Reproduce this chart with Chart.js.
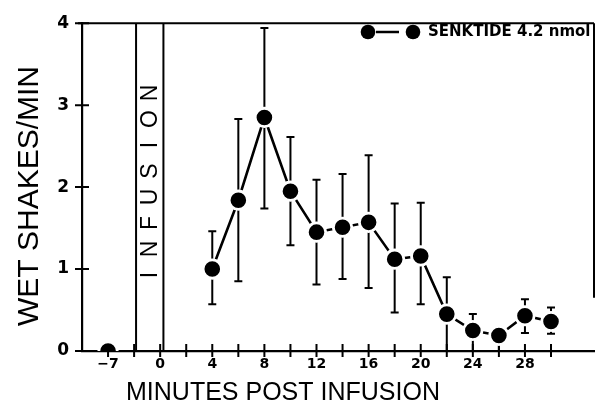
<!DOCTYPE html>
<html>
<head>
<meta charset="utf-8">
<script src="https://cdn.jsdelivr.net/npm/chart.js@4"></script>
<style>
  html, body { margin: 0; padding: 0; background: #fff; }
  #wrap { width: 606px; height: 417px; }
</style>
</head>
<body>
<div id="wrap"><canvas id="chart"></canvas></div>
<script>
// minutes post infusion (x on the plot), -7 baseline sits on a broken axis at position -4
const minutes = [4, 6, 8, 10, 12, 14, 16, 18, 20, 22, 24, 26, 28, 30]
const wetShakes = [1.0, 1.84, 2.85, 1.95, 1.45, 1.51, 1.57, 1.12, 1.16, 0.45, 0.25, 0.19, 0.43, 0.36]
const errUpper = [1.46, 2.83, 3.94, 2.61, 2.09, 2.16, 2.39, 1.80, 1.81, 0.90, 0.45, 0.19, 0.63, 0.53]
const errLower = [0.57, 0.85, 1.74, 1.29, 0.81, 0.88, 0.77, 0.47, 0.57, 0.0, 0.0, 0.0, 0.22, 0.21]

const baselinePos = [-4]
const baselineValue = [0]

const xTickPositions = [-4, 0, 4, 8, 12, 16, 20, 24, 28]
const xTickLabels = ["\u22127", "0", "4", "8", "12", "16", "20", "24", "28"]
const xMinorTicks = [-4, -2, 0, 2, 4, 6, 8, 10, 12, 14, 16, 18, 20, 22, 24, 26, 28, 30]
const yTicks = [0, 1, 2, 3, 4]

const infusionLines = [-1.85, 0.25]

const figurePlugin = {
  id: 'figureExtras',
  beforeDatasetsDraw(chart) {
    const ctx = chart.ctx
    const x = chart.scales.x
    const y = chart.scales.y
    const area = chart.chartArea
    ctx.save()
    ctx.strokeStyle = "#000"
    ctx.lineWidth = 2

    // frame: top line and right edge
    ctx.beginPath()
    ctx.moveTo(area.left - 4, area.top)
    ctx.lineTo(area.right, area.top)
    ctx.moveTo(area.right, area.top)
    ctx.lineTo(area.right, y.getPixelForValue(0.65))
    ctx.stroke()

    // infusion window lines
    infusionLines.forEach(v => {
      const px = x.getPixelForValue(v)
      ctx.beginPath()
      ctx.moveTo(px, area.top)
      ctx.lineTo(px, area.bottom)
      ctx.stroke()
    })

    // INFUSION label, vertical, spaced letters
    const word = "INFUSION"
    const midX = (x.getPixelForValue(infusionLines[0]) + x.getPixelForValue(infusionLines[1])) / 2
    const step = 26
    const centerY = 184
    ctx.fillStyle = "#000"
    ctx.font = "23px 'Liberation Sans'"
    ctx.textAlign = "center"
    ctx.textBaseline = "middle"
    for (let i = 0; i < word.length; i++) {
      const cy = centerY + ((word.length - 1) / 2 - i) * step
      ctx.save()
      ctx.translate(midX + 1, cy)
      ctx.rotate(-Math.PI / 2)
      ctx.fillText(word[i], 0, 0)
      ctx.restore()
    }

    // tick marks crossing the axes
    ctx.lineWidth = 2
    ctx.beginPath()
    xMinorTicks.forEach(v => {
      const px = x.getPixelForValue(v)
      ctx.moveTo(px, area.bottom - 7)
      ctx.lineTo(px, area.bottom + 6)
    })
    yTicks.forEach(v => {
      const py = y.getPixelForValue(v)
      ctx.moveTo(area.left - 7, py)
      ctx.lineTo(area.left + 7, py)
    })
    ctx.stroke()

    // error bars (drawn under the markers so the white rim cuts them)
    ctx.lineWidth = 2
    minutes.forEach((m, i) => {
      const px = x.getPixelForValue(m)
      const top = y.getPixelForValue(errUpper[i])
      const bot = y.getPixelForValue(errLower[i])
      ctx.beginPath()
      ctx.moveTo(px, top)
      ctx.lineTo(px, bot)
      if (errUpper[i] > wetShakes[i]) {
        ctx.moveTo(px - 4, top)
        ctx.lineTo(px + 4, top)
      }
      if (errLower[i] > 0.05) {
        ctx.moveTo(px - 4, bot)
        ctx.lineTo(px + 4, bot)
      }
      ctx.stroke()
    })

    // axis titles
    ctx.font = "25px 'Liberation Sans'"
    ctx.textAlign = "center"
    ctx.textBaseline = "middle"
    ctx.fillText("MINUTES POST INFUSION", 283, 393)
    ctx.save()
    ctx.translate(30, 196)
    ctx.rotate(-Math.PI / 2)
    ctx.font = "30px 'Liberation Sans'"
    ctx.fillText("WET SHAKES/MIN", 0, 0)
    ctx.restore()

    ctx.restore()
  },
  afterDatasetsDraw(chart) {
    // legend inside the plot, top right
    const ctx = chart.ctx
    ctx.save()
    const ly = 32
    ctx.strokeStyle = "#000"
    ctx.lineWidth = 2.5
    ctx.beginPath()
    ctx.moveTo(376, ly)
    ctx.lineTo(399, ly)
    ctx.stroke()
    ;[368, 413].forEach(cx => {
      ctx.beginPath()
      ctx.arc(cx, ly, 7.3, 0, Math.PI * 2)
      ctx.fillStyle = "#000"
      ctx.fill()
    })
    ctx.fillStyle = "#000"
    ctx.font = "bold 15px 'DejaVu Sans'"
    ctx.textAlign = "left"
    ctx.textBaseline = "middle"
    ctx.fillText("SENKTIDE 4.2 nmol", 428, ly)
    ctx.restore()
  }
}

const ctx = document.getElementById("chart").getContext("2d")

new Chart(ctx, {
  type: "line",
  data: {
    datasets: [
      {
        label: "SENKTIDE 4.2 nmol",
        data: minutes.map((m, i) => ({ x: m, y: wetShakes[i] })),
        borderColor: "#000",
        borderWidth: 2.6,
        backgroundColor: "#000",
        pointRadius: 9.2,
        pointBorderWidth: 2.8,
        pointBackgroundColor: "#000",
        pointBorderColor: "#fff",
        tension: 0
      },
      {
        label: "baseline",
        data: baselinePos.map((p, i) => ({ x: p, y: baselineValue[i] })),
        showLine: false,
        pointRadius: 9.2,
        pointBorderWidth: 2.8,
        pointBackgroundColor: "#000",
        pointBorderColor: "#fff"
      }
    ]
  },
  options: {
    responsive: true,
    maintainAspectRatio: false,
    animation: false,
    events: [],
    layout: {
      padding: { top: 22, right: 5, left: 0, bottom: 0 }
    },
    scales: {
      x: {
        type: "linear",
        min: -6,
        max: 33.3,
        afterFit(scale) { scale.height = 66 },
        afterBuildTicks(scale) {
          scale.ticks = xTickPositions.map(v => ({ value: v }))
        },
        ticks: {
          autoSkip: false,
          maxRotation: 0,
          padding: 5,
          color: "#000",
          font: { family: "DejaVu Sans", size: 14, weight: "bold" },
          callback(value) {
            const i = xTickPositions.indexOf(value)
            return i >= 0 ? xTickLabels[i] : ""
          }
        },
        grid: { display: false, drawTicks: false },
        border: { display: true, color: "#000", width: 2.2 }
      },
      y: {
        type: "linear",
        min: 0,
        max: 4,
        afterFit(scale) { scale.width = 82 },
        afterBuildTicks(scale) {
          scale.ticks = yTicks.map(v => ({ value: v }))
        },
        ticks: {
          padding: 13,
          color: "#000",
          font: { family: "DejaVu Sans", size: 17, weight: "bold" }
        },
        grid: { display: false, drawTicks: false },
        border: { display: true, color: "#000", width: 2.2 }
      }
    },
    plugins: {
      legend: { display: false },
      tooltip: { enabled: false }
    }
  },
  plugins: [figurePlugin]
})
</script>
</body>
</html>
